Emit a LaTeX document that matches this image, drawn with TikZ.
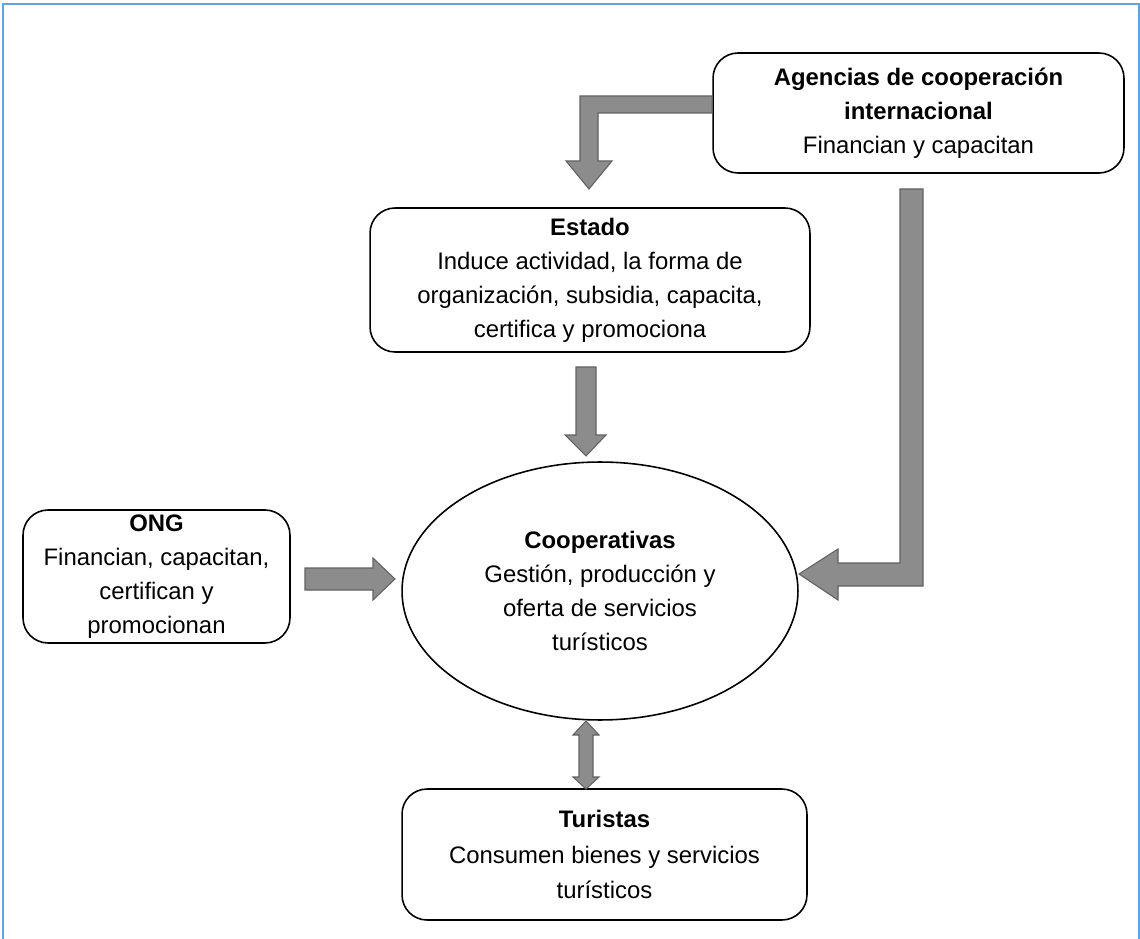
\documentclass[tikz,border=0pt]{standalone}
\usepackage{fontspec}
\setmainfont{Liberation Sans}
\usetikzlibrary{shapes.geometric,calc}
\definecolor{marco}{RGB}{100,162,222}

\begin{document}
\begin{tikzpicture}[x=0.02cm,y=-0.02cm,
		caja/.style={draw,rounded corners=0.5cm,line width=0.9pt,align=center,inner sep=0pt,font=\fontsize{13.6}{19.3}\selectfont},
		ovalo/.style={draw,ellipse,line width=0.9pt,align=center,inner sep=0pt,font=\fontsize{13.6}{19.3}\selectfont},
		flecha/.style={fill=black!45,draw=black!62,line width=0.6pt,line join=miter}]
			\useasboundingbox (0,0) rectangle (1140,939);
			\draw[marco,line width=1.2pt] (3,939) -- (3,4) -- (1139,4) -- (1139,939);

			\node[caja,minimum width=8.22cm,minimum height=2.4cm] (AG) at (918.5,113) { \textbf{Agencias de cooperación} \\ \textbf{internacional} \\ Financian y capacitan };
			\node[caja,minimum width=8.8cm,minimum height=2.88cm] (ES) at (590,280) { \textbf{Estado} \\ Induce actividad, la forma de \\ organización, subsidia, capacita, \\ certifica y promociona };
			\node[caja,minimum width=5.34cm,minimum height=2.66cm] (ONG) at (156.5,576.5) { \textbf{ONG} \\ Financian, capacitan, \\ certifican y \\ promocionan };
			\node[ovalo,minimum width=7.92cm,minimum height=5.16cm] (CO) at (600,591) { \textbf{Cooperativas} \\ Gestión, producción y \\ oferta de servicios \\ turísticos };
			\node[caja,minimum width=8.1cm,minimum height=2.62cm,font=\fontsize{13.6}{20}\selectfont] (TU) at (604.5,854.5) { \textbf{Turistas} \\ Consumen bienes y servicios \\ turísticos };

			% flechas de bloque
			\draw[flecha] (AG.west) -- ++(0,-17) -- (580,96) -- (580,161) -- (566,161) -- (589,189) -- (612,161) -- (598,161) -- (598,113) -- cycle;
			\draw[flecha] (900,189) -- (923,189) -- (923,586) -- (838,586) -- (838,600) -- (799,574) -- (838,549) -- (838,563) -- (900,563) -- cycle;
			\draw[flecha] (576,367) -- (596,367) -- (596,435) -- (606,435) -- (586,456) -- (565,435) -- (576,435) -- cycle;
			\draw[flecha] (305,568) -- (373,568) -- (373,558) -- (395,579) -- (373,600) -- (373,590) -- (305,590) -- cycle;
			\draw[flecha] (586,721) -- (599,735) -- (593,735) -- (593,777) -- (599,777) -- (586,789) -- (573,777) -- (579,777) -- (579,735) -- (573,735) -- cycle;
		\end{tikzpicture}
\end{document}
